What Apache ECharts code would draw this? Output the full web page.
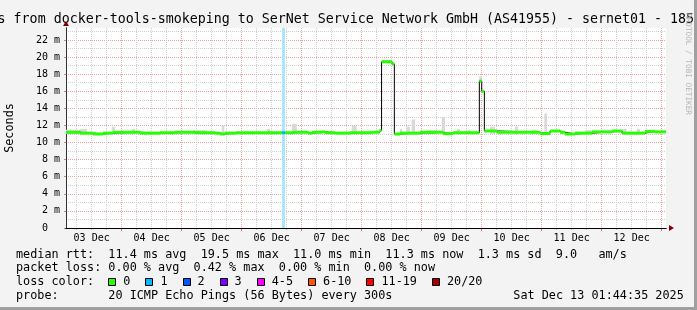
<!DOCTYPE html>
<html><head><meta charset="utf-8">
<script src="https://cdn.jsdelivr.net/npm/echarts@6/dist/echarts.min.js"></script>
<style>html,body{margin:0;padding:0;background:#f3f3f3}#c{width:697px;height:310px}</style>
</head><body><div id="c"></div>
<script>
// ---------- data ----------
const startTime = '2025-12-03 01:44:35';
const endTime = '2025-12-13 01:44:35';

const dayLabels = ['03 Dec','04 Dec','05 Dec','06 Dec','07 Dec','08 Dec','09 Dec','10 Dec','11 Dec','12 Dec'];
const labelDates = ['2025-12-03','2025-12-04','2025-12-05','2025-12-06','2025-12-07','2025-12-08','2025-12-09','2025-12-10','2025-12-11','2025-12-12'];
const yTicks = [0,2,4,6,8,10,12,14,16,18,20,22];
const yMinorTicks = [1,3,5,7,9,11,13,15,17,19,21,23];

// median rtt (ms), change points
const medTimes = ['2025-12-03 01:44:35','2025-12-03 07:22','2025-12-03 12:34','2025-12-03 16:34','2025-12-03 20:34',
  '2025-12-04 07:22','2025-12-04 15:22','2025-12-04 21:22','2025-12-05 05:22','2025-12-05 13:22','2025-12-05 15:22',
  '2025-12-05 17:22','2025-12-05 21:46','2025-12-06 16:10','2025-12-06 17:22','2025-12-06 20:34','2025-12-07 02:34',
  '2025-12-07 04:10','2025-12-07 08:10','2025-12-07 09:22','2025-12-07 13:22','2025-12-07 19:22','2025-12-08 03:22',
  '2025-12-08 07:05','2025-12-08 07:58','2025-12-08 12:10','2025-12-08 13:05','2025-12-08 15:22','2025-12-08 23:22',
  '2025-12-09 08:34','2025-12-09 12:34','2025-12-09 23:05','2025-12-10 00:02','2025-12-10 01:05','2025-12-10 06:10',
  '2025-12-10 23:22','2025-12-11 03:22','2025-12-11 07:22','2025-12-11 09:22','2025-12-11 13:22','2025-12-11 20:10',
  '2025-12-12 04:10','2025-12-12 08:10','2025-12-12 17:22','2025-12-12 21:22'];
const medValues = [11.2,11.1,11.0,11.1,11.2,
  11.1,11.15,11.2,11.15,11.1,11.0,
  11.1,11.15,11.15,11.15,11.2,11.1,
  11.2,11.25,11.15,11.1,11.15,11.2,
  11.4,19.45,19.2,11.0,11.1,11.2,
  11.05,11.15,17.2,16.0,11.35,11.2,
  11.05,11.35,11.2,11.0,11.1,11.25,
  11.35,11.1,11.3,11.25];
const medLoss = [0,0,0,0,0, 0,0,0,0,0,0, 0,0,1,0,0,0, 0,0,0,0,0,0, 0,0,0,0,0,0, 0,0,0,0,0,0, 0,0,0,0,0,0, 0,0,0,0];

// smoke (ping spread), ms
const smokeFrom = ['2025-12-03 01:44:35','2025-12-03 07:22','2025-12-03 20:02','2025-12-04 04:02','2025-12-05 04:34',
  '2025-12-05 16:02','2025-12-06 10:02','2025-12-06 20:02','2025-12-07 20:02','2025-12-08 08:10','2025-12-08 15:22',
  '2025-12-08 18:02','2025-12-08 20:02','2025-12-09 02:02','2025-12-09 08:02','2025-12-09 14:02','2025-12-09 18:02',
  '2025-12-09 23:05','2025-12-10 03:22','2025-12-10 13:22','2025-12-10 20:02','2025-12-11 01:05','2025-12-11 17:22',
  '2025-12-12 08:02','2025-12-12 14:02'];
const smokeTo = ['2025-12-03 07:22','2025-12-03 10:10','2025-12-03 21:22','2025-12-04 05:22','2025-12-05 10:10',
  '2025-12-05 17:05','2025-12-06 11:22','2025-12-06 22:02','2025-12-07 22:02','2025-12-08 12:10','2025-12-08 16:10',
  '2025-12-08 19:22','2025-12-08 21:22','2025-12-09 06:02','2025-12-09 09:22','2025-12-09 15:22','2025-12-09 19:22',
  '2025-12-10 00:02','2025-12-10 05:22','2025-12-10 14:34','2025-12-10 22:02','2025-12-11 02:10','2025-12-11 20:10',
  '2025-12-12 10:02','2025-12-12 15:22'];
const smokeLow = [11.0,11.0,11.0,11.0,11.0, 11.0,11.0,11.0,11.0,19.3,11.0, 11.0,11.0,11.0,11.0,11.0,11.0, 17.0,11.0,11.0,11.0,11.0,11.0, 11.0,11.0];
const smokeHigh = [11.5,11.6,11.85,11.6,11.45, 12.0,11.6,12.2,12.0,19.7,11.6, 11.85,12.7,11.45,13.0,11.6,11.45, 17.8,11.85,11.85,11.5,13.4,11.45, 11.6,11.6];

// loss colours (legend)
const lossLabels = ['0','1','2','3','4-5','6-10','11-19','20/20'];
const lossColors = ['#26ff00','#00b8ff','#0059ff','#7e00ff','#ff00ff','#ff5500','#ff0000','#a10000'];

const legendRows = [
  'median rtt:  11.4 ms avg  19.5 ms max  11.0 ms min  11.3 ms now  1.3 ms sd  9.0   am/s',
  'packet loss: 0.00 % avg  0.42 % max  0.00 % min  0.00 % now',
  'loss color:',
  'probe:       20 ICMP Echo Pings (56 Bytes) every 300s'
];
const stampText = 'Sat Dec 13 01:44:35 2025';
const titleText = 's from docker-tools-smokeping to SerNet Service Network GmbH (AS41955) - sernet01 - 185.';

// ---------- helpers ----------
const T = s => Date.parse(s.replace(' ', 'T') + (s.length === 16 ? ':00' : (s.length === 10 ? 'T00:00:00' : '')) + 'Z');
const START = T(startTime), END = T(endTime);
const H = 3600e3;
const noonVals = labelDates.map(d => T(d) + 12 * H);
const midnightVals = labelDates.map(d => T(d) + 24 * H);
const sixH = [];
labelDates.forEach(d => { [6, 12, 18].forEach(h => sixH.push(T(d) + h * H)); });

const medStart = medTimes.map(T);
const medEnd = medStart.slice(1).concat([END]);
const medSeg = medValues.map((v, i) => [medStart[i], medEnd[i], v, medLoss[i]]);
const lossSeg = medSeg.filter(s => s[3] > 0);
const stepData = medStart.map((t, i) => [t, medValues[i]]).concat([[END, medValues[medValues.length - 1]]]);
const smokeData = smokeFrom.map((s, i) => [T(s), T(smokeTo[i]), smokeLow[i], smokeHigh[i]]);

function lighten(hex, a) {
  const n = parseInt(hex.slice(1), 16);
  const c = [(n >> 16) & 255, (n >> 8) & 255, n & 255].map(v => Math.round(v * a + 255 * (1 - a)));
  return 'rgb(' + c.join(',') + ')';
}

const MONO = '"DejaVu Sans Mono", monospace';
const RED_GRID = '#e8a4a4';
const GREY_GRID = '#cfcfcf';
const YMAX = 23.4;

// ---------- legend graphics ----------
const CW = 11.8 * 0.602;
const graphics = [];
graphics.push({ type: 'text', x: -2.4, y: 19.8, style: { text: titleText, font: '13.3px ' + MONO, fill: '#000', textAlign: 'left', textVerticalAlign: 'middle' } });
const rowY = [254.5, 268.3, 282.2, 296.0];
legendRows.forEach((r, i) => graphics.push({ type: 'text', x: 16, y: rowY[i], style: { text: r, font: '11.8px ' + MONO, fill: '#000', textAlign: 'left', textVerticalAlign: 'middle' } }));
graphics.push({ type: 'text', x: 513.3, y: rowY[3], style: { text: stampText, font: '11.8px ' + MONO, fill: '#000', textAlign: 'left', textVerticalAlign: 'middle' } });
let bx = 108.3;
lossLabels.forEach((lab, i) => {
  graphics.push({ type: 'rect', shape: { x: Math.round(bx) + 0.5, y: 278.5, width: 7, height: 7 }, style: { fill: lossColors[i], stroke: '#000', lineWidth: 1 } });
  graphics.push({ type: 'text', x: bx + 15, y: rowY[2], style: { text: lab, font: '11.8px ' + MONO, fill: '#000', textAlign: 'left', textVerticalAlign: 'middle' } });
  bx = bx + 15 + lab.length * CW + 15;
});
graphics.push({ type: 'text', x: 688, y: 64, rotation: -Math.PI / 2, style: { text: 'RRDTOOL / TOBI OETIKER', font: '7.7px ' + MONO, fill: '#b4b4b4', textAlign: 'center', textVerticalAlign: 'middle' } });
graphics.push({ type: 'rect', shape: { x: 694, y: 0, width: 3, height: 310 }, style: { fill: '#a0a0a0' } });
graphics.push({ type: 'rect', shape: { x: 0, y: 307, width: 697, height: 3 }, style: { fill: '#a0a0a0' } });

// ---------- chart ----------
const chart = echarts.init(document.getElementById('c'), null, { renderer: 'canvas' });
const dotted = c => ({ color: c, width: 1, type: [1, 1] });
const baseX = { type: 'value', min: START, max: END, gridIndex: 0, position: 'bottom' };
const baseY = { type: 'value', min: 0, max: YMAX, gridIndex: 0, position: 'left' };

chart.setOption({
  animation: false,
  backgroundColor: '#f3f3f3',
  grid: { left: 66, top: 28, width: 600, height: 200, show: true, backgroundColor: '#ffffff', borderWidth: 0,
    containLabel: false, outerBoundsMode: 'none' },
  graphic: graphics,
  xAxis: [
    Object.assign({}, baseX, {
      z: 0,
      axisLine: { show: false, onZero: false },
      axisTick: { show: true, customValues: midnightVals, length: 3, lineStyle: { color: '#d88080' } },
      axisLabel: { show: true, customValues: noonVals, margin: 5, color: '#000', fontFamily: MONO, fontSize: 10,
        formatter: v => { const i = noonVals.indexOf(v); return i >= 0 ? dayLabels[i] : ''; } },
      splitLine: { show: true, lineStyle: dotted(RED_GRID) }
    }),
    Object.assign({}, baseX, {
      z: 0,
      axisLine: { show: false, onZero: false },
      axisTick: { show: true, customValues: sixH, length: 2, lineStyle: { color: '#bbbbbb' } },
      axisLabel: { show: false },
      splitLine: { show: true, lineStyle: dotted(GREY_GRID) }
    }),
    Object.assign({}, baseX, {
      z: 1,
      axisLine: { show: true, onZero: false, symbol: ['none', 'triangle'], symbolSize: [6, 5], symbolOffset: [0, 5.5], lineStyle: { color: '#7f0000', width: 1 } },
      axisTick: { show: false }, axisLabel: { show: false }, splitLine: { show: false }
    }),
    Object.assign({}, baseX, {
      z: 1.5,
      axisLine: { show: true, onZero: false, lineStyle: { color: '#000', width: 1 } },
      axisTick: { show: false }, axisLabel: { show: false }, splitLine: { show: false }
    })
  ],
  yAxis: [
    Object.assign({}, baseY, {
      z: 0,
      name: 'Seconds', nameLocation: 'middle', nameGap: 50, nameRotate: 90,
      nameTextStyle: { fontFamily: MONO, fontSize: 11.8, color: '#000' },
      axisLine: { show: false, onZero: false },
      axisTick: { show: true, customValues: yTicks, length: 2, lineStyle: { color: '#d88080' } },
      axisLabel: { show: true, customValues: yTicks, margin: 6, color: '#000', fontFamily: MONO, fontSize: 10,
        formatter: v => v === 0 ? '0  ' : v + ' m' },
      splitLine: { show: true, lineStyle: dotted(RED_GRID) }
    }),
    Object.assign({}, baseY, {
      z: 0,
      axisLine: { show: false, onZero: false },
      axisTick: { show: false, customValues: yMinorTicks },
      axisLabel: { show: false },
      splitLine: { show: true, lineStyle: dotted(GREY_GRID) }
    }),
    Object.assign({}, baseY, {
      z: 1,
      axisLine: { show: true, onZero: false, symbol: ['none', 'triangle'], symbolSize: [6, 5], symbolOffset: [0, 4.5], lineStyle: { color: '#7f0000', width: 1 } },
      axisTick: { show: false }, axisLabel: { show: false }, splitLine: { show: false }
    }),
    Object.assign({}, baseY, {
      z: 1.5,
      axisLine: { show: true, onZero: false, lineStyle: { color: '#333', width: 1 } },
      axisTick: { show: false }, axisLabel: { show: false }, splitLine: { show: false }
    })
  ],
  series: [
    {
      type: 'custom', name: 'loss', xAxisIndex: 0, yAxisIndex: 0, z: 2, clip: true,
      data: lossSeg, encode: { x: [0, 1], y: 2 },
      renderItem: (params, api) => {
        const x0 = api.coord([api.value(0), 0])[0];
        const x1 = api.coord([api.value(1), 0])[0];
        const cs = params.coordSys;
        return { type: 'rect', shape: { x: x0, y: cs.y, width: x1 - x0, height: cs.height },
          style: { fill: lighten(lossColors[api.value(3)], 0.35) } };
      }
    },
    {
      type: 'custom', name: 'smoke', xAxisIndex: 0, yAxisIndex: 0, z: 3, clip: true,
      data: smokeData, encode: { x: [0, 1], y: [2, 3] },
      renderItem: (params, api) => {
        const p0 = api.coord([api.value(0), api.value(3)]);
        const p1 = api.coord([api.value(1), api.value(2)]);
        return { type: 'rect', shape: { x: p0[0], y: p0[1], width: p1[0] - p0[0], height: p1[1] - p0[1] },
          style: { fill: '#d8d8d8' } };
      }
    },
    {
      type: 'line', name: 'median-step', xAxisIndex: 0, yAxisIndex: 0, z: 4, step: 'end',
      data: stepData, showSymbol: false, symbol: 'none',
      lineStyle: { color: '#000', width: 1 }
    },
    {
      type: 'custom', name: 'median', xAxisIndex: 0, yAxisIndex: 0, z: 5, clip: true,
      data: medSeg, encode: { x: [0, 1], y: 2 },
      renderItem: (params, api) => {
        const p0 = api.coord([api.value(0), api.value(2)]);
        const p1 = api.coord([api.value(1), api.value(2)]);
        return { type: 'line', shape: { x1: p0[0], y1: p0[1], x2: p1[0], y2: p1[1] },
          style: { stroke: lossColors[api.value(3)], lineWidth: 3, lineCap: 'butt' } };
      }
    }
  ]
});
</script>
</body></html>
